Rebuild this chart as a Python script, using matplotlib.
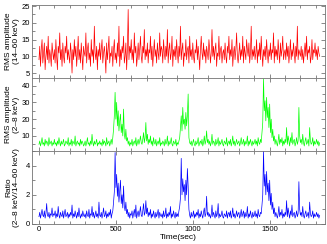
import matplotlib.pyplot as plt
from matplotlib.ticker import MultipleLocator

# time axis: one sample every 5 s from 0 to 1825 s
t_step = 5

rms_hard = [
    9, 13, 7, 12, 15, 8, 11, 14, 6, 10, 13, 9, 16, 8, 12, 10, 7, 14, 11, 9,
    12, 8, 15, 10, 6, 13, 11, 17, 9, 12, 7, 14, 10, 8, 13, 11, 16, 9, 12, 10,
    8, 14, 11, 5, 12, 9, 15, 10, 13, 7, 11, 16, 9, 12, 8, 14, 10, 6, 13, 11,
    10, 17, 8, 12, 14, 9, 11, 7, 15, 10, 12, 8, 19, 11, 9, 13, 6, 12, 10, 14,
    9, 12, 15, 8, 11, 13, 10, 5, 14, 9, 12, 16, 8, 11, 10, 13, 7, 12, 15, 9,
    11, 8, 14, 10, 19, 7, 12, 9, 13, 11, 16, 8, 10, 14, 6, 12, 24, 9, 13, 11,
    15, 9, 12, 8, 17, 11, 13, 7, 10, 14, 9, 12, 16, 10, 8, 13, 11, 18, 9, 12,
    10, 14, 8, 12, 11, 16, 9, 13, 7, 11, 15, 10, 12, 8, 14, 11, 9, 17, 10, 13,
    12, 8, 15, 11, 9, 13, 10, 18, 8, 12, 14, 9, 11, 16, 7, 12, 10, 13, 9, 15,
    11, 8, 13, 10, 19, 9, 12, 14, 7, 11, 10, 15, 9, 12, 13, 8, 16, 10, 12, 9,
    14, 10, 8, 12, 11, 15, 9, 13, 10, 6, 12, 16, 11, 9, 14, 10, 12, 8, 13, 11,
    9, 15, 12, 8, 11, 18, 10, 13, 9, 12, 14, 7, 11, 10, 16, 9, 12, 13, 8, 11,
    12, 9, 14, 10, 8, 13, 11, 16, 9, 12, 10, 15, 7, 11, 13, 9, 12, 17, 10, 8,
    11, 14, 9, 12, 10, 16, 8, 13, 11, 9, 15, 12, 10, 14, 8, 11, 19, 9, 12, 10,
    13, 9, 11, 15, 8, 12, 10, 14, 9, 16, 11, 7, 12, 10, 13, 9, 15, 11, 8, 12,
    10, 14, 9, 12, 11, 17, 8, 13, 10, 12, 9, 15, 11, 8, 14, 10, 12, 16, 9, 11,
    12, 9, 14, 10, 13, 8, 11, 15, 9, 12, 10, 14, 11, 8, 13, 10, 19, 9, 12, 11,
    10, 13, 9, 12, 8, 11, 14, 10, 16, 9, 12, 11, 13, 8, 10, 15, 9, 12, 11, 14,
    10, 12, 9, 13, 11, 10,
]

rms_soft = [
    5, 7, 4, 6, 9, 5, 6, 4, 8, 5, 7, 6, 4, 9, 5, 6, 7, 4, 6, 5,
    8, 5, 6, 4, 7, 5, 9, 6, 4, 7, 5, 6, 8, 4, 5, 7, 6, 5, 9, 4,
    6, 5, 8, 4, 7, 6, 5, 10, 4, 6, 7, 5, 6, 4, 8, 5, 7, 6, 4, 5,
    7, 4, 6, 9, 5, 6, 4, 7, 5, 11, 6, 4, 7, 5, 6, 8, 4, 6, 5, 7,
    5, 6, 4, 8, 5, 7, 6, 4, 9, 5, 6, 7, 4, 6, 8, 5, 9, 14, 22, 36,
    20, 30, 16, 25, 13, 19, 23, 12, 17, 10, 26, 11, 8, 14, 7, 9, 5, 7, 4, 6,
    5, 8, 4, 6, 7, 5, 9, 4, 6, 8, 5, 7, 10, 6, 5, 8, 12, 6, 9, 18,
    7, 11, 5, 8, 6, 10, 5, 7, 4, 9, 6, 5, 8, 4, 6, 7, 5, 9, 4, 6,
    5, 7, 6, 4, 8, 5, 6, 10, 4, 7, 5, 6, 9, 5, 4, 7, 6, 5, 8, 4,
    6, 5, 7, 9, 15, 22, 13, 27, 17, 20, 14, 24, 16, 22, 35, 9, 6, 5, 7, 4,
    6, 8, 5, 4, 7, 5, 6, 9, 4, 6, 7, 5, 8, 4, 6, 10, 5, 7, 13, 6,
    8, 5, 7, 4, 6, 11, 5, 7, 6, 4, 8, 5, 6, 9, 4, 7, 5, 6, 8, 5,
    4, 7, 6, 5, 9, 4, 6, 7, 5, 8, 4, 6, 10, 5, 7, 4, 6, 8, 5, 6,
    7, 4, 6, 9, 5, 6, 8, 4, 7, 5, 6, 10, 4, 7, 5, 8, 6, 4, 7, 5,
    6, 8, 5, 7, 4, 9, 6, 5, 8, 6, 12, 18, 44, 25, 31, 19, 33, 21, 27, 15,
    29, 12, 20, 9, 14, 7, 10, 5, 8, 6, 4, 7, 11, 5, 8, 6, 9, 4, 7, 5,
    8, 6, 15, 5, 10, 7, 4, 9, 6, 12, 5, 7, 8, 4, 6, 9, 5, 7, 27, 10,
    6, 8, 5, 11, 6, 4, 7, 9, 5, 6, 8, 4, 15, 7, 5, 6, 9, 4, 7, 5,
    6, 8, 5, 7, 4, 6,
]

ratio = [
    0.5, 0.8, 0.4, 0.7, 1.0, 0.6, 0.5, 0.9, 0.4, 0.7, 1.4, 0.6, 0.5, 0.8, 0.4, 0.7, 0.6, 1.1, 0.5, 0.7,
    0.6, 0.9, 0.4, 0.7, 0.5, 1.2, 0.6, 0.4, 0.8, 0.6, 0.5, 0.9, 0.4, 0.7, 1.0, 0.5, 0.6, 0.8, 0.4, 0.7,
    0.5, 0.8, 0.6, 1.3, 0.4, 0.7, 0.5, 0.9, 0.6, 0.4, 0.8, 0.5, 1.1, 0.6, 0.4, 0.7, 0.5, 0.9, 0.6, 0.5,
    0.7, 0.4, 0.9, 0.6, 0.5, 1.0, 0.4, 0.7, 0.6, 1.2, 0.5, 0.8, 0.4, 0.6, 0.9, 0.5, 0.7, 0.4, 1.5, 0.6,
    0.5, 0.8, 0.4, 0.7, 1.1, 0.5, 0.6, 0.9, 0.4, 0.7, 0.5, 0.8, 0.6, 1.0, 0.4, 0.7, 0.9, 1.5, 2.2, 4.9,
    2.5, 3.4, 1.9, 2.8, 1.5, 2.2, 3.0, 1.4, 2.0, 1.1, 2.6, 1.2, 0.9, 1.5, 0.7, 1.0, 0.5, 0.8, 0.4, 0.7,
    0.6, 0.9, 0.4, 0.7, 1.0, 0.5, 1.3, 0.4, 0.7, 0.9, 0.5, 0.8, 1.2, 0.6, 0.5, 0.9, 1.4, 0.6, 0.8, 1.6,
    0.7, 1.1, 0.5, 0.8, 0.6, 1.0, 0.4, 0.7, 0.5, 0.9, 0.6, 0.4, 0.8, 0.5, 0.7, 1.0, 0.4, 0.8, 0.6, 0.5,
    0.7, 0.4, 0.9, 0.5, 0.6, 1.1, 0.4, 0.7, 0.5, 0.8, 0.6, 1.2, 0.4, 0.7, 0.5, 0.9, 0.6, 0.4, 0.8, 0.5,
    0.7, 0.5, 0.9, 1.2, 1.8, 4.5, 2.0, 3.1, 2.2, 2.7, 1.6, 3.0, 2.0, 3.8, 2.6, 1.0, 0.6, 0.4, 0.8, 0.5,
    0.6, 0.9, 0.4, 0.7, 0.5, 0.8, 0.6, 1.0, 0.4, 0.7, 0.5, 0.9, 0.6, 0.4, 0.8, 1.1, 0.5, 0.7, 1.9, 0.6,
    0.8, 0.5, 0.7, 0.4, 0.6, 1.3, 0.5, 0.8, 0.6, 0.4, 0.9, 0.5, 0.7, 1.4, 0.4, 0.7, 0.5, 0.6, 0.9, 0.5,
    0.4, 0.7, 0.6, 0.5, 0.9, 0.4, 0.7, 0.8, 0.5, 0.9, 0.4, 0.6, 1.1, 0.5, 0.7, 0.4, 0.6, 0.9, 0.5, 0.7,
    0.8, 0.4, 0.6, 1.0, 0.5, 0.7, 0.9, 0.4, 0.8, 0.5, 0.6, 1.2, 0.4, 0.7, 0.5, 0.9, 0.6, 0.4, 0.8, 0.5,
    0.6, 0.9, 0.5, 0.7, 0.4, 1.0, 0.6, 0.5, 0.8, 0.7, 1.3, 2.0, 5.0, 2.6, 3.4, 2.0, 3.6, 2.2, 2.8, 1.6,
    3.0, 1.3, 2.1, 1.0, 1.5, 0.7, 1.1, 0.5, 0.8, 0.6, 0.4, 0.7, 1.2, 0.5, 0.8, 0.6, 1.0, 0.4, 0.7, 0.5,
    0.8, 0.6, 1.6, 0.5, 1.1, 0.7, 0.4, 0.9, 0.6, 1.3, 0.5, 0.7, 0.8, 0.4, 0.6, 0.9, 0.5, 0.7, 2.9, 1.0,
    0.6, 0.8, 0.5, 1.2, 0.6, 0.4, 0.7, 0.9, 0.5, 0.6, 0.8, 0.4, 1.5, 0.7, 0.5, 0.6, 0.9, 0.4, 0.7, 0.5,
    0.6, 0.8, 0.5, 0.7, 0.4, 0.6,
]

time = [i * t_step for i in range(len(rms_hard))]

plt.rcParams['font.family'] = ['Liberation Sans', 'DejaVu Sans']
plt.rcParams['font.size'] = 5.5

fig = plt.figure(figsize=(3.27, 2.44), dpi=100)

panels = [
    (rms_hard, '#ff0000', 'RMS amplitude\n(14\u201360 keV)', (3.5, 25.3), 5, 2.5),
    (rms_soft, '#00ff00', 'RMS amplitude\n(2\u20138 keV)', (1, 44.5), 10, 5),
    (ratio, '#0000ff', 'Ratio\n(2\u20138 keV/14\u201360 keV)', (0, 5.0), 2, 1),
]

left, width, h = 0.098, 0.896, 0.299
bottom0 = 0.082
axes = []
for k, (vals, col, lab, ylim, maj, mnr) in enumerate(panels):
    ax = fig.add_axes([left, bottom0 + (2 - k) * h, width, h])
    ax.plot(time, vals, color=col, lw=0.5)
    ax.set_xlim(-45, 1860)
    ax.set_ylim(*ylim)
    ax.yaxis.set_major_locator(MultipleLocator(maj))
    ax.yaxis.set_minor_locator(MultipleLocator(mnr))
    ax.xaxis.set_major_locator(MultipleLocator(500))
    ax.xaxis.set_minor_locator(MultipleLocator(100))
    ax.tick_params(which='both', direction='in', top=True, right=True,
                   colors='0.35', labelcolor='black', width=0.5, labelsize=5.5)
    ax.tick_params(which='major', length=3, pad=1.5)
    ax.tick_params(which='minor', length=2)
    for s in ax.spines.values():
        s.set_color('0.45')
        s.set_linewidth(0.6)
    ax.set_ylabel(lab, fontsize=6, linespacing=1.2)
    if k < 2:
        ax.set_xticklabels([])
    axes.append(ax)

axes[-1].set_xlabel('Time(sec)', fontsize=6, labelpad=0.5)
for ax in axes:
    ax.yaxis.set_label_coords(-0.04, 0.5)

plt.savefig('out.png', dpi=100)
